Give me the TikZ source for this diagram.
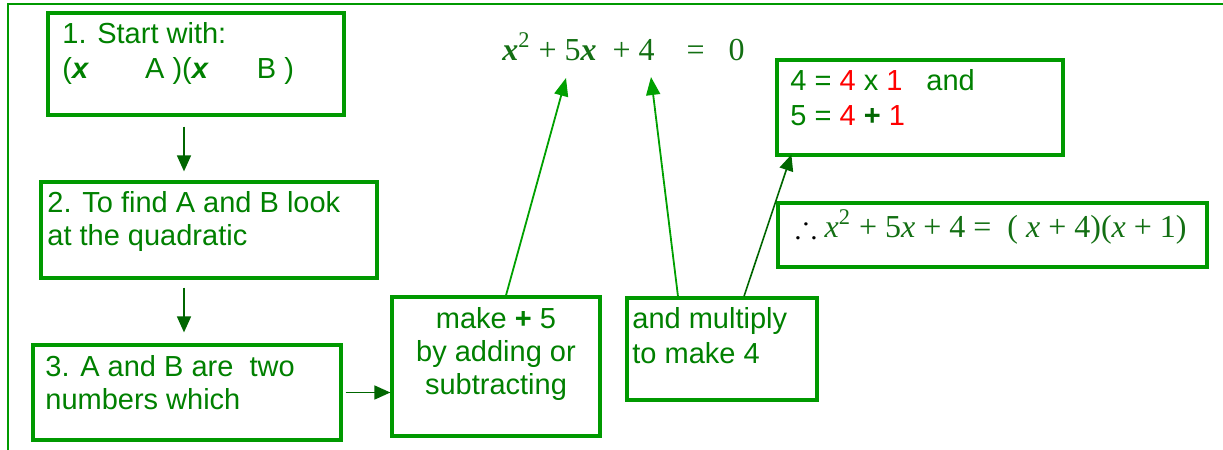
\documentclass[tikz,border=0pt]{standalone}
\usepackage{amssymb}
\usepackage{fontspec}
\setmainfont{Liberation Sans}
\newfontfamily\eqfont{Liberation Serif}
\usetikzlibrary{arrows.meta,positioning,calc,fit}
\definecolor{boxGreen}{HTML}{009900}
\definecolor{txtGreen}{HTML}{008000}
\definecolor{eqGreen}{HTML}{136F13}
\definecolor{arrDark}{HTML}{006600}
\definecolor{arrLight}{HTML}{00A000}
\definecolor{hiRed}{HTML}{FF0000}
\newcommand{\bx}{\textbf{\textit{x}}}
\tikzset{
  stepbox/.style={draw=boxGreen, line width=1.6pt, inner sep=0pt},
  steptxt/.style={text=txtGreen, inner sep=0pt, align=left, font=\fontsize{14.5}{16.5}\selectfont},
  widetxt/.style={steptxt, font=\fontsize{14.5}{17.5}\selectfont},
  flow/.style={-{Triangle[width=7pt,length=8pt]}, draw=arrDark, line width=0.8pt},
  point/.style={-{Triangle[width=7pt,length=9pt]}, draw=arrLight, line width=0.9pt},
}

\begin{document}
\begin{tikzpicture}[x=0.5pt, y=-0.5pt]
\useasboundingbox (0,0) rectangle (1223,450);
% ---- frame ----
\draw[boxGreen, line width=1pt] (8,450) -- (8,3.5) -- (1223,3.5);
% ---- left column: the three steps ----
\node[stepbox, fit={(48,13) (344,115)}] (start) {};
\node[widetxt, anchor=base west] (startTxt) at (62,78) {1. Start with:\\(\bx\hspace{28pt}A )(\bx\hspace{24pt}B )};
\node[stepbox, fit={(41,182) (377,278)}] (find) {};
\node[steptxt, anchor=base west] (findTxt) at (47,245) {2. To find A and B look\\at the quadratic};
\node[stepbox, fit={(33,345) (341,440)}] (numbers) {};
\node[steptxt, anchor=base west] (numbersTxt) at (45,409) {3. A and B are\ \ two\\numbers which};
% ---- bottom: add and multiply ----
\node[stepbox, fit={(392,297) (600,436)}] (make) {};
\node[steptxt, align=center, anchor=base] (makeTxt) at (496,394) {make \textbf{+} 5\\by adding or\\subtracting};
\node[stepbox, fit={(627,298) (817,400)}] (mult) {};
\node[widetxt, anchor=base west] (multTxt) at (632,363) {and multiply\\to make 4};
% ---- right: the numbers and the answer ----
\node[stepbox, fit={(777,60) (1063,155)}] (split) {};
\node[widetxt, anchor=base west] (splitTxt) at (790,125) {4 = \textcolor{hiRed}{4} x \textcolor{hiRed}{1}\hspace{12pt}and\\5 = \textcolor{hiRed}{4} \textcolor{arrDark}{\textbf{+}} \textcolor{hiRed}{1}};
\node[stepbox, fit={(778,203) (1207,267)}] (answer) {};
\node[text=eqGreen, inner sep=0pt, font=\eqfont\fontsize{16}{18}\selectfont, anchor=base west] (answerTxt) at (795,237) {\textcolor{black}{$\therefore$}\ \textit{x}\textsuperscript{2} + 5\textit{x} + 4 =\ \ ( \textit{x} + 4)(\textit{x} + 1)};
% ---- the quadratic ----
\node[text=eqGreen, inner sep=0pt, font=\eqfont\fontsize{16}{18}\selectfont, anchor=base west] (quad) at (502,60) {\bx\textsuperscript{2} + 5\bx\hspace{8pt}+ 4\hspace{16pt}=\hspace{12pt}0};
\coordinate (at5x) at (566,78);
\coordinate (at4) at (651,77);
% ---- arrows ----
\draw[flow] ([xshift=-6pt,yshift=-5pt]start.south) -- ([xshift=-12.5pt,yshift=4.5pt]find.north);
\draw[flow] ([xshift=-12.5pt,yshift=-4pt]find.south) -- ([xshift=-1.5pt,yshift=5.5pt]numbers.north);
\draw[flow] ([xshift=1.5pt]numbers.east) -- (numbers.east -| make.west);
\draw[point] ([xshift=5pt]make.north) -- (at5x);
\draw[point] ([xshift=-22pt]mult.north) -- (at4);
\draw[flow] ([xshift=11pt]mult.north) -- ([xshift=8pt,yshift=1pt]split.south west);
\end{tikzpicture}
\end{document}
